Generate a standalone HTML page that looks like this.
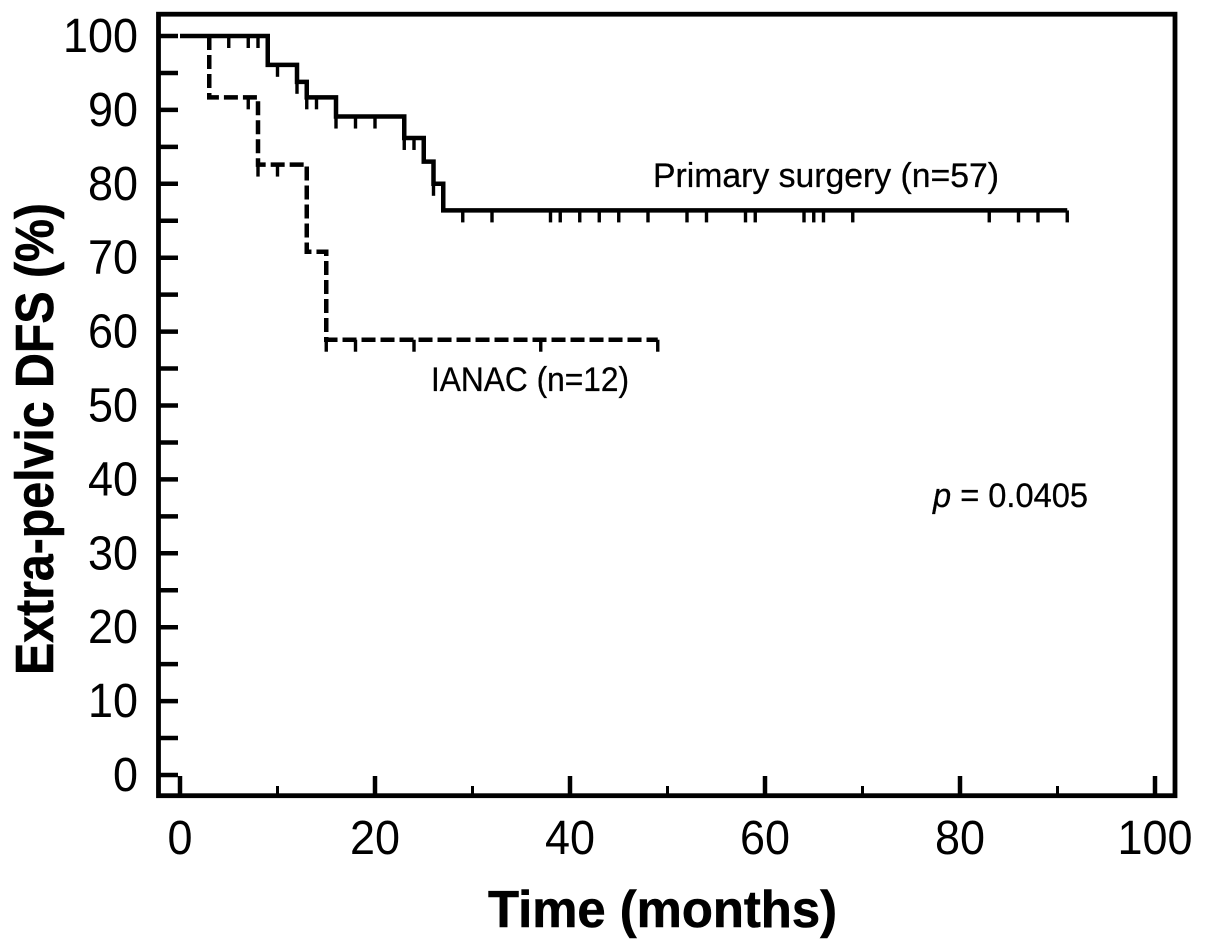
<!DOCTYPE html>
<html lang="en">
<head>
<meta charset="utf-8">
<title>Extra-pelvic DFS Kaplan-Meier chart</title>
<style>
html,body{margin:0;padding:0;background:#fff;}
#chart{display:block;width:1205px;height:950px;}
text{fill:#000;font-family:"Liberation Sans",sans-serif;}
</style>
</head>
<body>
<svg id="chart" xmlns="http://www.w3.org/2000/svg" width="1205" height="950" viewBox="0 0 1205 950">
  <rect x="0" y="0" width="1205" height="950" fill="#fff"/>
  <g id="ticks"></g>
  <g id="labels"></g>
  <g id="series"></g>
  <rect x="158.5" y="14.2" width="1016.5" height="781.5" fill="none" stroke="#000" stroke-width="4.8"/>
  <text transform="translate(53,675) rotate(-90)" font-size="54" font-weight="700" stroke="#000" stroke-width="0.6" textLength="472" lengthAdjust="spacingAndGlyphs">Extra-pelvic DFS (%)</text>
  <text x="488" y="927" font-size="52" font-weight="700" stroke="#000" stroke-width="0.6" textLength="349" lengthAdjust="spacingAndGlyphs">Time (months)</text>
  <text x="653" y="187" font-size="34" stroke="#000" stroke-width="0.3" textLength="346" lengthAdjust="spacingAndGlyphs">Primary surgery (n=57)</text>
  <text x="431" y="391" font-size="34" stroke="#000" stroke-width="0.3" textLength="198" lengthAdjust="spacingAndGlyphs">IANAC (n=12)</text>
  <text x="933" y="507" font-size="34" stroke="#000" stroke-width="0.3" textLength="155" lengthAdjust="spacingAndGlyphs"><tspan font-style="italic">p</tspan> = 0.0405</text>
</svg>
<script>
const xTickLabels = [0, 20, 40, 60, 80, 100];
const xMinorTicks = [10, 30, 50, 70, 90];
const yTickLabels = [0, 10, 20, 30, 40, 50, 60, 70, 80, 90, 100];
const yMinorTicks = [5, 15, 25, 35, 45, 55, 65, 75, 85, 95];

const primaryTimes = [0, 9, 12, 13, 16, 23, 25, 26, 27, 91];
const primaryValues = [100, 96.1, 93.8, 91.7, 89.1, 86.2, 83, 80, 76.4, 76.4];
const primaryCensored = [5, 7, 8, 10, 12, 13, 14, 16, 18, 20, 23, 24, 26, 29, 32, 38, 39, 41, 43, 45, 48, 52, 54, 58, 59, 64, 65, 66, 69, 83, 86, 88, 91];

const ianacTimes = [3, 8, 13, 15, 49];
const ianacValues = [91.7, 82.6, 70.8, 58.9, 58.9];
const ianacStartValue = 100;
const ianacCensored = [7, 8, 10, 15, 18, 24, 37, 49];

const NS = 'http://www.w3.org/2000/svg';
function xScale(t) { return 180 + 9.75 * t; }
function yScale(v) { return 775 - 7.39 * v; }

function stepValueAt(times, values, t, startValue) {
  let current = startValue;
  for (let i = 0; i < times.length; i++) {
    if (t >= times[i]) current = values[i];
  }
  return current;
}

function stepPath(times, values, startTime, startValue) {
  let d = 'M' + xScale(startTime) + ' ' + yScale(startValue);
  let prev = startValue;
  for (let i = 0; i < times.length; i++) {
    d += ' L' + xScale(times[i]) + ' ' + yScale(prev);
    d += ' L' + xScale(times[i]) + ' ' + yScale(values[i]);
    prev = values[i];
  }
  return d;
}

const tickGroup = document.getElementById('ticks');
const labelGroup = document.getElementById('labels');
const seriesGroup = document.getElementById('series');

function drawLine(parent, x1, y1, x2, y2, w) {
  const l = document.createElementNS(NS, 'line');
  l.setAttribute('x1', x1);
  l.setAttribute('y1', y1);
  l.setAttribute('x2', x2);
  l.setAttribute('y2', y2);
  l.setAttribute('stroke', '#000');
  l.setAttribute('stroke-width', w);
  parent.appendChild(l);
  return l;
}

yTickLabels.forEach(function (v) {
  const tick = drawLine(tickGroup, 160, yScale(v), 178, yScale(v), 4.5);
  
  
  const label = document.createElementNS(NS, 'text');
  label.setAttribute('x', 138);
  label.setAttribute('y', yScale(v) + 16);
  label.setAttribute('text-anchor', 'end');
  label.setAttribute('font-size', '48');
  label.setAttribute('textLength', String(v).length * 25);
  label.setAttribute('lengthAdjust', 'spacingAndGlyphs');
  label.textContent = v;
  
  
  labelGroup.appendChild(label);
});

yMinorTicks.forEach(function (v) {
  const tick = drawLine(tickGroup, 160, yScale(v), 178, yScale(v), 4.5);
  
  
});

xTickLabels.forEach(function (t) {
  const tick = drawLine(tickGroup, xScale(t), 776, xScale(t), 795, 4.5);
  
  
  const label = document.createElementNS(NS, 'text');
  label.setAttribute('x', xScale(t));
  label.setAttribute('y', 854);
  label.setAttribute('text-anchor', 'middle');
  label.setAttribute('font-size', '48');
  label.setAttribute('textLength', String(t).length * 25);
  label.setAttribute('lengthAdjust', 'spacingAndGlyphs');
  label.textContent = t;
  
  
  labelGroup.appendChild(label);
});

xMinorTicks.forEach(function (t) {
  const tick = drawLine(tickGroup, xScale(t), 786, xScale(t), 795, 3);
  
  
});

const primaryPath = document.createElementNS(NS, 'path');
primaryPath.setAttribute('d', stepPath(primaryTimes, primaryValues, 0, 100));
primaryPath.setAttribute('fill', 'none');
primaryPath.setAttribute('stroke', '#000');
primaryPath.setAttribute('stroke-width', '4.5');
primaryPath.setAttribute('stroke-linejoin', 'miter');


seriesGroup.appendChild(primaryPath);

const ianacPath = document.createElementNS(NS, 'path');
ianacPath.setAttribute('d', stepPath(ianacTimes, ianacValues, ianacTimes[0], ianacStartValue).replace(/^M\S+ \S+ L\S+ \S+/, 'M' + xScale(ianacTimes[0]) + ' ' + yScale(ianacStartValue)));
ianacPath.setAttribute('fill', 'none');
ianacPath.setAttribute('stroke', '#000');
ianacPath.setAttribute('stroke-width', '4.5');
ianacPath.setAttribute('stroke-dasharray', '14 5');


seriesGroup.appendChild(ianacPath);

primaryCensored.forEach(function (t) {
  const y = yScale(stepValueAt(primaryTimes, primaryValues, t, 100));
  const mark = drawLine(seriesGroup, xScale(t), y, xScale(t), y + 12, 3.4);
  
  
});

ianacCensored.forEach(function (t) {
  const y = yScale(stepValueAt(ianacTimes, ianacValues, t, ianacStartValue));
  const mark = drawLine(seriesGroup, xScale(t), y, xScale(t), y + 12, 3.4);
  
  
});
</script>
</body>
</html>
